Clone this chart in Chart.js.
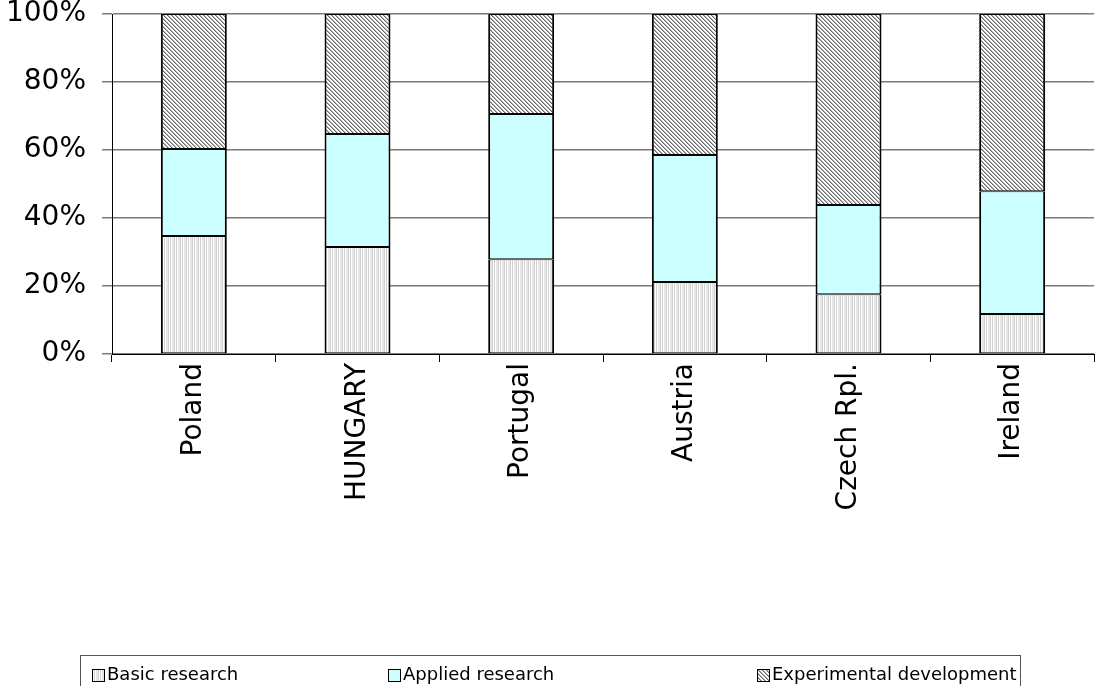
<!DOCTYPE html>
<html>
<head>
<meta charset="utf-8">
<script src="https://cdn.jsdelivr.net/npm/chart.js@4/dist/chart.umd.min.js"></script>
<style>
  html, body { margin: 0; padding: 0; background: #fff; }
  #wrap { position: relative; width: 1096px; height: 686px; overflow: hidden; }
  #chart { position: absolute; left: 0; top: 0; }
  #legend {
    position: absolute; left: 80px; top: 655px; width: 941px; height: 40px;
    border: 1px solid #555; box-sizing: border-box;
    font-family: "DejaVu Sans", Verdana, sans-serif; font-size: 18px; color: #000;
  }
  .item { position: absolute; top: 7px; height: 22px; line-height: 22px; white-space: nowrap; }
  .item canvas { position: absolute; left: 0; top: 6px; }
  .item span { position: absolute; left: 15px; top: 0; }
</style>
</head>
<body>
<div id="wrap">
  <canvas id="chart" width="1096" height="686"></canvas>
  <div id="legend"></div>
</div>
<script>
// Share of R&D spending by type of research, per country
const categories = ['Poland', 'HUNGARY', 'Portugal', 'Austria', 'Czech Rpl.', 'Ireland'];
const basicResearch = [34.7, 31.5, 27.9, 21.2, 17.6, 11.8];
const appliedResearch = [25.6, 33.2, 42.7, 37.3, 26.2, 36.1];
const experimentalDevelopment = [39.7, 35.3, 29.4, 41.5, 56.2, 52.1];
const seriesNames = ['Basic research', 'Applied research', 'Experimental development'];
const legendOffsets = [11, 307, 676];

// Fill patterns
function makePattern(draw, w, h) {
  const c = document.createElement('canvas');
  c.width = w; c.height = h;
  const g = c.getContext('2d');
  g.fillStyle = '#fff';
  g.fillRect(0, 0, w, h);
  draw(g);
  return c;
}
const verticalTile = makePattern(g => {
  g.fillStyle = '#d0d0d0';
  g.fillRect(0, 0, 1, 8);
  g.fillRect(2, 0, 1, 8);
  g.fillStyle = '#e6e6e6';
  g.fillRect(4, 0, 1, 8);
  g.fillRect(5, 0, 1, 8);
}, 6, 8);
const diagonalTile = makePattern(g => {
  for (let i = 0; i < 4; i++) {
    g.fillStyle = '#6a6a6a';
    g.fillRect(i, i, 1, 1);
    g.fillStyle = '#b0b0b0';
    g.fillRect((i + 1) % 4, i, 1, 1);
  }
}, 4, 4);

const ctx = document.getElementById('chart').getContext('2d');
const basicFill = ctx.createPattern(verticalTile, 'repeat');
const diagFill = ctx.createPattern(diagonalTile, 'repeat');
const fills = [basicFill, '#ccffff', diagFill];

const tickFont = { family: '"DejaVu Sans", Verdana, sans-serif', size: 28, lineHeight: 1.0 };

const seriesData = [basicResearch, appliedResearch, experimentalDevelopment];

new Chart(ctx, {
  type: 'bar',
  data: {
    labels: categories,
    datasets: seriesData.map((d, i) => ({
      label: seriesNames[i],
      data: d,
      backgroundColor: fills[i],
      borderColor: '#000',
      borderWidth: { top: 1, bottom: 1, left: 2, right: 2 },
      borderSkipped: false,
      categoryPercentage: 1.0,
      barPercentage: 0.403
    }))
  },
  options: {
    responsive: false,
    animation: false,
    layout: { padding: { top: 14, right: 2, left: 0, bottom: 132 } },
    plugins: { legend: { display: false }, tooltip: { enabled: false } },
    scales: {
      x: {
        stacked: true,
        grid: { offset: true, drawOnChartArea: false, drawTicks: true, tickLength: 8, color: '#000', lineWidth: 1 },
        border: { color: '#000', width: 1 },
        ticks: { minRotation: 90, maxRotation: 90, autoSkip: false, padding: 1, color: '#000', font: tickFont },
        afterFit(s) { s.height = 200; }
      },
      y: {
        stacked: true,
        min: 0,
        max: 100,
        grid: { color: '#7a7a7a', lineWidth: 1.5, tickLength: 10 },
        border: { color: '#000', width: 1 },
        ticks: { stepSize: 20, padding: 16, color: '#000', font: tickFont, callback: v => v + '%' },
        afterFit(s) { s.width = 112; s.paddingTop = 0; s.paddingBottom = 0; }
      }
    }
  }
});

// Legend entries
const legend = document.getElementById('legend');
const swatchTiles = [verticalTile, null, diagonalTile];
seriesNames.forEach((name, i) => {
  const item = document.createElement('div');
  item.className = 'item';
  item.style.left = legendOffsets[i] + 'px';
  const sw = document.createElement('canvas');
  sw.width = 13; sw.height = 13;
  const g = sw.getContext('2d');
  g.fillStyle = swatchTiles[i] ? g.createPattern(swatchTiles[i], 'repeat') : fills[i];
  g.fillRect(0, 0, 13, 13);
  g.strokeStyle = '#000';
  g.lineWidth = 1;
  g.strokeRect(0.5, 0.5, 12, 12);
  const label = document.createElement('span');
  label.textContent = name;
  item.appendChild(sw);
  item.appendChild(label);
  legend.appendChild(item);
});
</script>
</body>
</html>
